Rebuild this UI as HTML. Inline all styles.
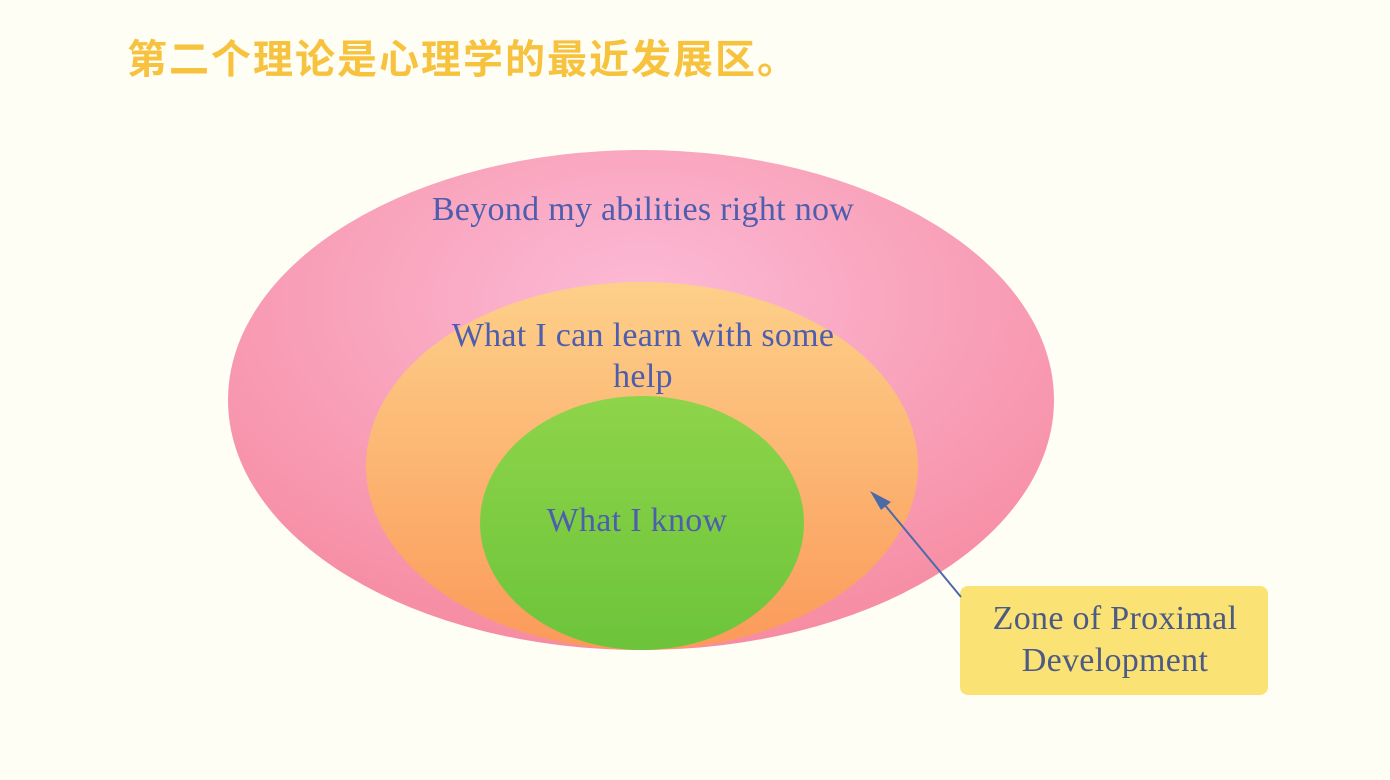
<!DOCTYPE html>
<html><head><meta charset="utf-8"><style>
html,body{margin:0;padding:0;background:#fffef5;}
body{width:1390px;height:780px;position:relative;overflow:hidden;}
.t{position:absolute;left:127px;top:27px;font-family:"Liberation Sans","Noto Sans CJK SC",sans-serif;font-size:40px;color:#f7c23e;letter-spacing:2px;font-weight:bold;}
svg{position:absolute;left:0;top:0;}
</style></head><body>
<div class="t">第二个理论是心理学的最近发展区。</div>
<svg width="1390" height="780" viewBox="0 0 1390 780">
<defs>
<radialGradient id="pk" cx="0.5" cy="0.3" r="0.7"><stop offset="0" stop-color="#fcbad6"/><stop offset="1" stop-color="#f68ca2"/></radialGradient>
<linearGradient id="or" x1="0" y1="0" x2="0" y2="1"><stop offset="0" stop-color="#fdd08a"/><stop offset="1" stop-color="#fb9a5a"/></linearGradient>
<linearGradient id="gr" x1="0" y1="0" x2="0" y2="1"><stop offset="0" stop-color="#8ed44a"/><stop offset="1" stop-color="#6cc43a"/></linearGradient>
</defs>
<ellipse cx="641" cy="400" rx="413" ry="250" fill="url(#pk)"/>
<ellipse cx="642" cy="466" rx="276" ry="184" fill="url(#or)"/>
<ellipse cx="642" cy="523" rx="162" ry="127" fill="url(#gr)"/>
<g font-family="Liberation Serif,serif" fill="#4d5eae" text-anchor="middle" font-size="34" letter-spacing="0.3">
<text x="643" y="220">Beyond my abilities right now</text>
<text x="643" y="346">What I can learn with some</text>
<text x="643" y="387">help</text>
<text x="637" y="531">What I know</text>
</g>
<rect x="960" y="586" width="308" height="109" rx="8" fill="#fbe274"/>
<g font-family="Liberation Serif,serif" fill="#4c5a86" text-anchor="middle" font-size="34" letter-spacing="0.3">
<text x="1115" y="629">Zone of Proximal</text>
<text x="1115" y="671">Development</text>
</g>
<line x1="961" y1="597" x2="884" y2="504" stroke="#4d6aa8" stroke-width="2"/>
<polygon points="870,491 891,502 881,510" fill="#4d6aa8"/>
</svg>
</body></html>
